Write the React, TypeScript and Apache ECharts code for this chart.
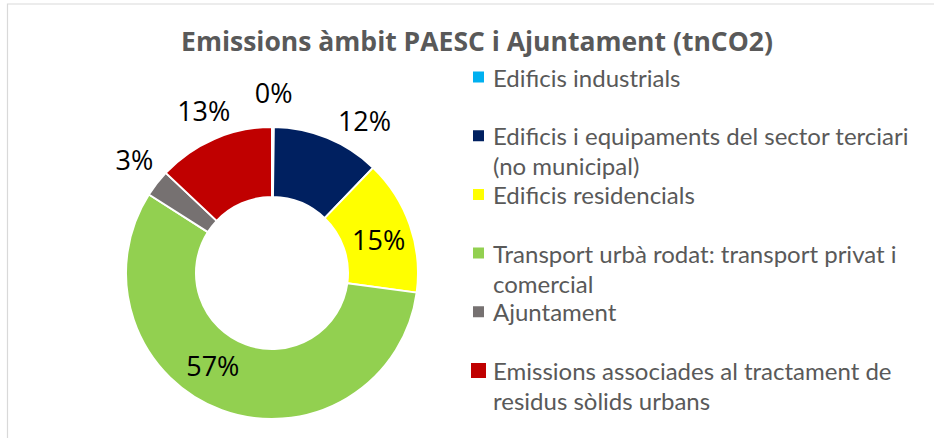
import React, { useEffect, useRef } from 'react';
import * as echarts from 'echarts';

const titleText = 'Emissions àmbit PAESC i Ajuntament (tnCO2)';

const categories = [
  'Edificis industrials',
  'Edificis i equipaments del sector terciari (no municipal)',
  'Edificis residencials',
  'Transport urbà rodat: transport privat i comercial',
  'Ajuntament',
  'Emissions associades al tractament de residus sòlids urbans',
];

// share of emissions, in percent
const shares = [0.2, 12, 15, 57, 3, 13];

const colors = ['#00b0f0', '#002060', '#ffff00', '#92d050', '#767171', '#c00000'];

// legend text, wrapped as in the reference; the blank first line keeps the marker beside the first text line
const legendLabels = [
  ' \nEdificis industrials\n ',
  ' \nEdificis i equipaments del sector terciari\n(no municipal)',
  ' \nEdificis residencials\n ',
  ' \nTransport urbà rodat: transport privat i\ncomercial',
  ' \nAjuntament\n ',
  ' \nEmissions associades al tractament de\nresidus sòlids urbans',
];

// legend markers share one invisible frame so they scale alike
const FRAME = ' M-2,-2l0.01,0 M15,13l0.01,0';
const ICON_SMALL = 'path://M0,0h11v11h-11Z' + FRAME;
const ICON_BIG = 'path://M-2,-2h15v15h-15Z' + FRAME;
const legendIcons = [ICON_SMALL, ICON_SMALL, ICON_SMALL, ICON_SMALL, ICON_SMALL, ICON_BIG];

const labelPositions = ['outside', 'outside', 'inside', 'inside', 'outside', 'outside'];
const labelOffsets: number[][] = [
  [-24, -71],
  [0, -6],
  [-1, 4],
  [-20, -15],
  [12, -16],
  [27, -17],
];

export default function App() {
  const ref = useRef<HTMLDivElement>(null);
  useEffect(() => {
    document.body.style.margin = '0';
    const chart = echarts.init(ref.current!, null, { renderer: 'svg' });
    chart.setOption({
      animation: false,
      backgroundColor: '#ffffff',
      title: {
        text: titleText,
        left: 477,
        top: 27,
        padding: 0,
        textAlign: 'center',
        textStyle: {
          fontFamily: 'Open Sans',
          fontWeight: 'bold',
          fontSize: 26.5,
          color: '#595959',
        },
      },
      graphic: [
        {
          type: 'rect',
          x: 7.5,
          y: 4,
          shape: { x: 0, y: 0, width: 1000, height: 1000 },
          style: { fill: 'none', stroke: '#d9d9d9', lineWidth: 1.2 },
          silent: true,
          z: -1,
        },
      ],
      legend: {
        orient: 'vertical',
        left: 471,
        top: 32,
        padding: 0,
        itemWidth: 17,
        itemHeight: 15,
        itemGap: -31.3,
        selectedMode: false,
        itemStyle: { borderWidth: 0 },
        data: categories.map((name, i) => ({ name, icon: legendIcons[i] })),
        formatter: (name: string) => legendLabels[categories.indexOf(name)],
        textStyle: {
          fontFamily: 'Lato',
          fontSize: 24,
          color: '#595959',
          lineHeight: 30,
        },
      },
      series: [
        {
          type: 'pie',
          center: [272, 273],
          radius: [76, 146],
          startAngle: 90,
          clockwise: true,
          avoidLabelOverlap: false,
          itemStyle: { borderColor: '#ffffff', borderWidth: 2 },
          label: {
            show: true,
            color: '#000000',
            fontFamily: 'Open Sans',
            fontSize: 27,
            formatter: (p: any) => Math.round(p.percent) + '%',
          },
          labelLine: {
            length: 12,
            length2: 1,
            lineStyle: { color: '#000000', width: 1 },
          },
          labelLayout: (params: any) => ({
            dx: labelOffsets[params.dataIndex][0],
            dy: labelOffsets[params.dataIndex][1],
          }),
          emphasis: { disabled: true },
          data: categories.map((name, i) => ({
            name,
            value: shares[i],
            itemStyle: { color: colors[i] },
            label: { position: labelPositions[i] },
            labelLine:
              i === 0
                ? { show: true, length: -36, length2: 1, maxSurfaceAngle: 180 }
                : { show: false },
          })),
        },
      ],
    });
    return () => chart.dispose();
  }, []);
  return <div ref={ref} style={{ width: 934, height: 438 }} />;
}
